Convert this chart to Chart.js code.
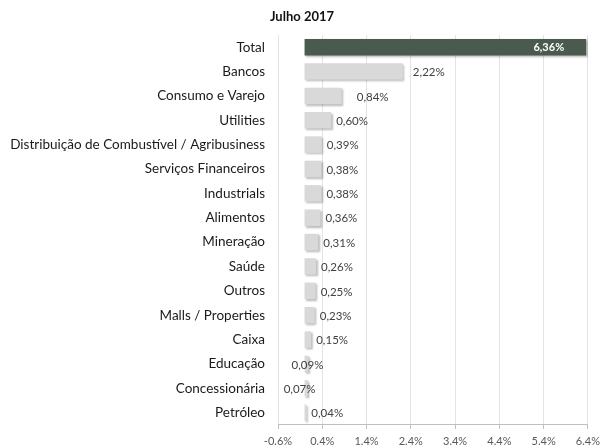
<!DOCTYPE html>
<html>
<head>
<meta charset="utf-8">
<script src="https://cdn.jsdelivr.net/npm/chart.js@4/dist/chart.umd.min.js"></script>
<style>
  body { margin: 0; background: #fff; }
  #wrap { width: 606px; height: 446px; }
</style>
</head>
<body>
<div id="wrap"><canvas id="chart"></canvas></div>
<script>
'use strict';

var chartTitle = 'Julho 2017';
var categories = [
  'Total', 'Bancos', 'Consumo e Varejo', 'Utilities',
  'Distribuição de Combustível / Agribusiness', 'Serviços Financeiros',
  'Industrials', 'Alimentos', 'Mineração', 'Saúde', 'Outros',
  'Malls / Properties', 'Caixa', 'Educação', 'Concessionária', 'Petróleo'
];
var values = [6.36, 2.22, 0.84, 0.60, 0.39, 0.38, 0.38, 0.36, 0.31, 0.26, 0.25, 0.23, 0.15, 0.09, 0.07, 0.04];
var tickValues = [-0.6, 0.4, 1.4, 2.4, 3.4, 4.4, 5.4, 6.4];
var tickLabels = ['-0.6%', '0.4%', '1.4%', '2.4%', '3.4%', '4.4%', '5.4%', '6.4%'];

var barColors = categories.map(function (c, i) {
  return i === 0 ? '#4b5a4f' : '#d9d9d9';
});

// a few labels sit nudged sideways from the bar end
var labelNudge = { 'Bancos': 5, 'Consumo e Varejo': 10, 'Educação': -22, 'Concessionária': -29 };

var fmt = function (v) {
  return v.toFixed(2).replace('.', ',') + '%';
};

// title centred on the whole canvas, not on the padded layout box
var titleText = {
  id: 'titleText',
  afterDraw: function (chart) {
    var ctx = chart.ctx;
    ctx.save();
    ctx.font = 'bold 13px Lato';
    ctx.fillStyle = '#111111';
    ctx.textAlign = 'center';
    ctx.textBaseline = 'middle';
    ctx.fillText(chartTitle, 302, 17);
    ctx.restore();
  }
};

var barLabels = {
  id: 'barLabels',
  beforeDatasetsDraw: function (chart) {
    var ctx = chart.ctx;
    ctx.save();
    ctx.shadowColor = 'rgba(0,0,0,0.28)';
    ctx.shadowOffsetX = 1.5;
    ctx.shadowOffsetY = 1.5;
    ctx.shadowBlur = 2;
  },
  afterDatasetsDraw: function (chart) {
    var ctx = chart.ctx;
    ctx.restore();
    var meta = chart.getDatasetMeta(0);
    ctx.save();
    ctx.textBaseline = 'middle';
    meta.data.forEach(function (bar, i) {
      var text = fmt(values[i]);
      if (i === 0) {
        ctx.font = 'bold 11px Lato';
        ctx.fillStyle = '#ffffff';
        ctx.textAlign = 'right';
        ctx.fillText(text, bar.x - 22, bar.y);
      } else {
        ctx.font = '11.5px Lato';
        ctx.fillStyle = '#404040';
        ctx.textAlign = 'left';
        ctx.fillText(text, bar.x + 5 + (labelNudge[categories[i]] || 0), bar.y + 1);
      }
    });
    ctx.restore();
  }
};

var ctx = document.getElementById('chart').getContext('2d');
var myChart = new Chart(ctx, {
  type: 'bar',
  data: {
    labels: categories,
    datasets: [{
      data: values,
      backgroundColor: barColors,
      borderWidth: 0,
      barPercentage: 0.68,
      categoryPercentage: 1
    }]
  },
  options: {
    indexAxis: 'y',
    responsive: true,
    maintainAspectRatio: false,
    animation: false,
    layout: { padding: { left: 0, right: 13, top: 35, bottom: 0 } },
    plugins: {
      legend: { display: false },
      tooltip: { enabled: false },
      title: { display: false }
    },
    scales: {
      x: {
        type: 'linear',
        min: -0.6,
        max: 6.4,
        afterBuildTicks: function (scale) {
          scale.ticks = tickValues.map(function (v) { return { value: v }; });
        },
        afterFit: function (scale) { scale.height = 21; },
        ticks: {
          color: '#595959',
          font: { family: 'Lato', size: 11 },
          padding: 6,
          maxRotation: 0,
          callback: function (value, index) { return tickLabels[index]; }
        },
        grid: { color: '#e3e3e3', tickLength: 4, tickColor: '#bfbfbf' },
        border: { display: true, color: '#bfbfbf' }
      },
      y: {
        type: 'category',
        afterFit: function (scale) { scale.width = 278; },
        ticks: {
          color: '#1a1a1a',
          font: { family: 'Lato', size: 13.5 },
          padding: 13
        },
        grid: { display: false, drawTicks: false },
        border: { display: false }
      }
    }
  },
  plugins: [barLabels, titleText]
});
</script>
</body>
</html>
